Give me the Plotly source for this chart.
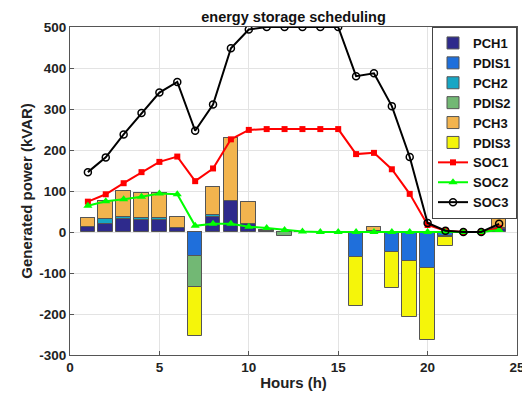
import plotly.graph_objects as go

hours = list(range(1, 25))

PCH1  = [12, 20, 31, 29, 29, 9, 0, 37, 75, 20, 2, 0, 0, 0, 0, 0, 3, 0, 0, 0, 0, 0, 0, 8]
PDIS1 = [0, 0, 0, 0, 0, 0, -58, 0, 0, 0, 0, 0, 0, 0, 0, -60, 0, -48, -70, -88, -10, 0, 0, 0]
PCH2  = [1, 12, 5, 6, 6, 0, 0, 4, 0, 0, 0, 0, 0, 0, 0, 0, 0, 0, 0, 0, 0, 0, 0, 2]
PDIS2 = [0, 0, 0, 0, 0, 0, -76, 0, 0, 0, 0, -9, 0, 0, 0, 0, 0, 0, 0, 0, -3, 0, 0, 0]
PCH3  = [20, 43, 63, 59, 61, 27, 0, 69, 154, 52, 3, 0, 0, 0, 0, 0, 10, 0, 0, 0, 0, 0, 0, 27]
PDIS3 = [0, 0, 0, 0, 0, 0, -120, 0, 0, 0, 0, 0, 0, 0, 0, -120, 0, -89, -138, -175, -21, 0, 0, 0]

SOC1 = [74, 92, 119, 146, 171, 184, 124, 155, 226, 249, 251, 251, 251, 251, 251, 190, 193, 153, 93, 17, 3, 0, 0, 10]
SOC2 = [64, 75, 80, 86, 94, 92, 15, 20, 20, 13, 10, 5, 1, 0, 0, 0, 0, 0, 0, 0, 0, 0, 0, 5]
SOC3 = [146, 182, 238, 290, 340, 366, 247, 311, 448, 494, 500, 500, 500, 500, 500, 380, 387, 307, 183, 22, 3, 0, 0, 20]

x_ticks = [0, 5, 10, 15, 20, 25]
y_ticks = list(range(-300, 501, 100))

bar_series = [
    ("PCH1", PCH1, "#2E2A8C"),
    ("PDIS1", PDIS1, "#1F6FDB"),
    ("PCH2", PCH2, "#17A6C4"),
    ("PDIS2", PDIS2, "#72B874"),
    ("PCH3", PCH3, "#F2B44E"),
    ("PDIS3", PDIS3, "#F5F50A"),
]

fig = go.Figure()
for name, vals, col in bar_series:
    fig.add_trace(go.Bar(
        x=hours, y=vals, name="<b>%s</b>" % name, width=0.82,
        marker=dict(color=col, line=dict(color="#555555", width=1)),
    ))

fig.add_trace(go.Scatter(
    x=hours, y=SOC1, name="<b>SOC1</b>", mode="lines+markers",
    line=dict(color="#FF0000", width=2),
    marker=dict(symbol="square", size=6, color="#FF0000"),
))
fig.add_trace(go.Scatter(
    x=hours, y=SOC2, name="<b>SOC2</b>", mode="lines+markers",
    line=dict(color="#00FF00", width=2),
    marker=dict(symbol="triangle-up", size=8, color="#00FF00"),
))
fig.add_trace(go.Scatter(
    x=hours, y=SOC3, name="<b>SOC3</b>", mode="lines+markers",
    line=dict(color="#000000", width=2),
    marker=dict(symbol="circle-open", size=7, color="#000000", line=dict(width=1.5)),
))

font_main = "Arial, Liberation Sans, sans-serif"
fig.update_layout(
    width=530, height=401,
    margin=dict(l=62, r=21, t=19, b=54),
    barmode="relative",
    bargap=0,
    plot_bgcolor="white",
    paper_bgcolor="white",
    font=dict(family=font_main, size=13, color="#222222"),
    title=dict(
        text="<b>energy storage scheduling</b>",
        x=0.5, xanchor="center", xref="paper",
        y=1, yref="paper", yanchor="bottom", pad=dict(b=5),
        font=dict(size=14.5, color="#111111"),
    ),
    legend=dict(
        x=1, xanchor="right", y=1, yanchor="top",
        bgcolor="white", bordercolor="#444444", borderwidth=1,
        font=dict(size=13, color="#111111", family=font_main),
        tracegroupgap=0, itemwidth=30,
    ),
    showlegend=True,
)
fig.update_xaxes(
    range=[0, 25], tickvals=x_ticks,
    ticktext=["<b>%d</b>" % v for v in x_ticks],
    showgrid=True, gridcolor="#E3E3E3", gridwidth=1,
    showline=True, linecolor="#555555", linewidth=1, mirror=True,
    ticks="inside", ticklen=4, tickcolor="#555555",
    zeroline=False, automargin=False,
    title=dict(text="<b>Hours (h)</b>", font=dict(size=15, color="#222222"), standoff=3),
    tickfont=dict(size=13.5, color="#222222"),
)
fig.update_yaxes(
    range=[-300, 500], tickvals=y_ticks,
    ticktext=["<b>%d</b>" % v for v in y_ticks],
    showgrid=True, gridcolor="#E3E3E3", gridwidth=1,
    showline=True, linecolor="#555555", linewidth=1, mirror=True,
    ticks="inside", ticklen=4, tickcolor="#555555",
    zeroline=False, automargin=False,
    title=dict(text="<b>Generated power (kVAR)</b>", font=dict(size=15, color="#222222"), standoff=3),
    tickfont=dict(size=13.5, color="#222222"),
)

fig.write_html("out.html")
